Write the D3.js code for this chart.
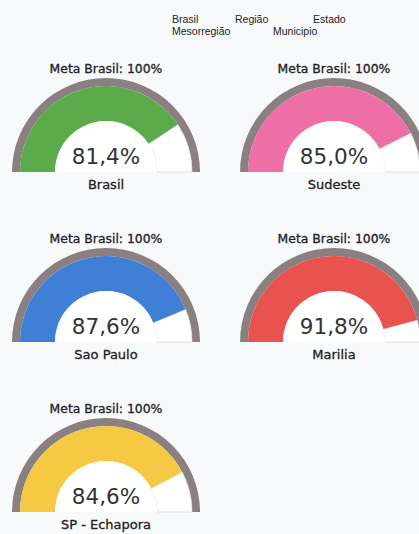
<!DOCTYPE html>
<html><head><meta charset="utf-8">
<script src="https://cdn.jsdelivr.net/npm/d3@7/dist/d3.min.js"></script>
<style>
html,body{margin:0;padding:0;background:#f8f9fb;overflow:hidden;}
svg{display:block;}
</style></head>
<body>
<svg id="chart" width="419" height="534"></svg>
<script>
// Data
const regions = ["Brasil", "Sudeste", "Sao Paulo", "Marilia", "SP - Echapora"];
const values = [81.4, 85.0, 87.6, 91.8, 84.6];
const goals = [100, 100, 100, 100, 100];
const colors = ["#5bab4b", "#ee6ea6", "#3f80d6", "#e8534f", "#f6c945"];
const legendRow1 = ["Brasil", "Região", "Estado"];
const legendRow2 = ["Mesorregião", "Municipio"];

// Layout
const centersX = [106, 334, 106, 334, 106];
const centersY = [172, 172, 342, 342, 512];
const R = 94, ringW = 8, innerR = 51;

const svg = d3.select("#chart");

// legend
const legX1 = [172, 235, 313];
const legX2 = [172, 273];
svg.append("g").selectAll("text").data(legendRow1).join("text")
  .attr("x", (d,i)=>legX1[i]).attr("y", 23)
  .attr("font-family", "Liberation Sans, Arial, sans-serif").attr("font-size", 10.5)
  .attr("fill", "#222").text(d=>d);
svg.append("g").selectAll("text").data(legendRow2).join("text")
  .attr("x", (d,i)=>legX2[i]).attr("y", 35)
  .attr("font-family", "Liberation Sans, Arial, sans-serif").attr("font-size", 10.5)
  .attr("fill", "#222").text(d=>d);

const angle = d3.scaleLinear().domain([0, 100]).range([-Math.PI/2, Math.PI/2]);
const fmt = v => d3.format(".1f")(v).replace(".", ",") + "%";

regions.forEach((name, i) => {
  const g = svg.append("g").attr("transform", `translate(${centersX[i]},${centersY[i]})`);
  // gray outer ring (goal)
  g.append("path")
    .attr("d", d3.arc()({innerRadius: R - ringW, outerRadius: R, startAngle: angle(0), endAngle: angle(goals[i])}))
    .attr("fill", "#8a8081");
  // empty remainder
  g.append("path")
    .attr("d", d3.arc()({innerRadius: innerR, outerRadius: R - ringW, startAngle: angle(values[i]), endAngle: angle(goals[i])}))
    .attr("fill", "#ffffff").attr("stroke", "#dcdcdc").attr("stroke-width", 0.8);
  // value arc
  g.append("path")
    .attr("d", d3.arc()({innerRadius: innerR, outerRadius: R - ringW, startAngle: angle(0), endAngle: angle(values[i])}))
    .attr("fill", colors[i]);
  // inner white disc
  g.append("path")
    .attr("d", d3.arc()({innerRadius: 0, outerRadius: innerR, startAngle: angle(0), endAngle: angle(100)}))
    .attr("fill", "#ffffff");

  g.append("text").attr("x", 0).attr("y", -99).attr("text-anchor", "middle")
    .attr("font-family", "DejaVu Sans, sans-serif").attr("font-size", 12.4)
    .attr("fill", "#222").attr("stroke", "#222").attr("stroke-width", 0.3)
    .text("Meta Brasil: " + goals[i] + "%");
  g.append("text").attr("x", 0).attr("y", -8).attr("text-anchor", "middle")
    .attr("font-family", "DejaVu Sans, sans-serif").attr("font-size", 21.5)
    .attr("fill", "#333").text(fmt(values[i]));
  g.append("text").attr("x", 0).attr("y", 17).attr("text-anchor", "middle")
    .attr("font-family", "DejaVu Sans, sans-serif").attr("font-size", 13)
    .attr("fill", "#222").attr("stroke", "#222").attr("stroke-width", 0.3)
    .text(name);
});
</script>
</body></html>
